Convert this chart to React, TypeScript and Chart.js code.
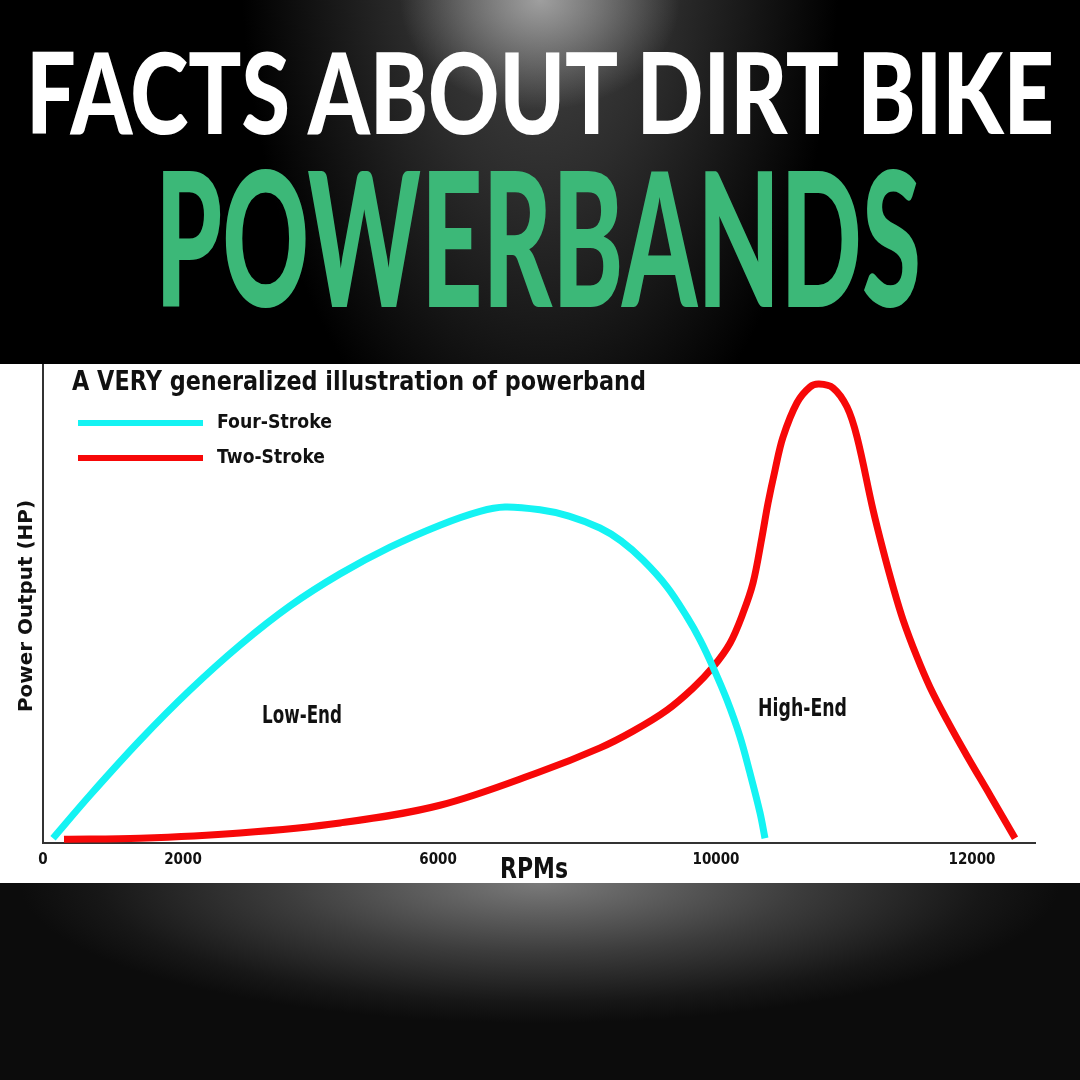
import React, { useEffect, useLayoutEffect, useRef } from 'react';
import { Chart, registerables } from 'chart.js';

Chart.register(...registerables);

// ---- data ----
const fourStrokeRpm = [143, 671, 1386, 2100, 2814, 3529, 4243, 4957, 5671, 6243, 6600, 7100, 7514, 7957, 8257, 8571, 8914, 9200, 9386, 9571, 9771, 9957, 10100, 10243, 10314];
const fourStrokeHp = [1.0, 10.0, 21.5, 32.0, 41.4, 49.6, 56.3, 61.9, 66.5, 69.4, 70.3, 69.7, 68.4, 65.9, 63.2, 59.2, 53.6, 47.3, 42.5, 36.8, 29.9, 22.2, 14.6, 6.3, 1.0];

const twoStrokeRpm = [300, 1386, 2814, 4243, 5671, 7100, 7957, 8429, 8914, 9286, 9571, 9814, 10000, 10143, 10271, 10357, 10457, 10571, 10771, 10957, 11086, 11286, 11486, 11629, 11857, 12000, 12143, 12286, 12486, 12671, 12914, 13200, 13529, 13886];
const twoStrokeHp = [0.8, 1.0, 2.1, 4.2, 7.9, 14.9, 19.9, 23.4, 27.8, 32.4, 36.8, 41.8, 48.1, 54.4, 64.0, 71.1, 78.0, 84.9, 92.1, 95.4, 96.0, 95.2, 91.2, 84.9, 69.7, 61.3, 53.6, 46.7, 38.9, 32.6, 25.7, 18.2, 10.0, 1.0];

const seriesNames = ['Four-Stroke', 'Two-Stroke'];
const seriesColors = ['#14f3f3', '#f70808'];

const tickPositions = [0, 2000, 5643, 9614, 13271];
const tickLabels = ['0', '2000', '6000', '10000', '12000'];

const regionLabels = ['Low-End', 'High-End'];
const regionRpm = [3700, 10850];
const regionHp = [25.1, 26.6];
const regionWidths = [80, 89];

const chartTitle = 'A VERY generalized illustration of powerband';
const xTitle = 'RPMs';
const yTitle = 'Power Output (HP)';

const PANEL_TOP = 364;
const TEXT = '#111111';
const FONT = '"DejaVu Sans", sans-serif';

function drawFit(ctx: CanvasRenderingContext2D, text: string, x: number, y: number, w: number, size: number) {
  ctx.save();
  ctx.font = `bold ${size}px ${FONT}`;
  const m = ctx.measureText(text).width;
  ctx.translate(x, y);
  ctx.scale(w / m, 1);
  ctx.textAlign = 'left';
  ctx.textBaseline = 'alphabetic';
  ctx.fillStyle = TEXT;
  ctx.fillText(text, 0, 0);
  ctx.restore();
}

const textPlugin = {
  id: 'powerbandText',
  afterDraw(chart: any) {
    const ctx: CanvasRenderingContext2D = chart.ctx;
    const xs = chart.scales.x;
    const ys = chart.scales.y;
    const off = PANEL_TOP;
    drawFit(ctx, chartTitle, 72, 390 - off, 574, 27);
    const legendW = [115, 108];
    chart.data.datasets.forEach((ds: any, i: number) => {
      const cy = (423 + i * 35) - off;
      ctx.save();
      ctx.strokeStyle = ds.borderColor;
      ctx.lineWidth = 6;
      ctx.beginPath();
      ctx.moveTo(78, cy);
      ctx.lineTo(203, cy);
      ctx.stroke();
      ctx.restore();
      drawFit(ctx, ds.label, 217, cy + 5, legendW[i], 19);
    });
    regionLabels.forEach((t, i) => {
      const px = xs.getPixelForValue(regionRpm[i]);
      const py = ys.getPixelForValue(regionHp[i]);
      drawFit(ctx, t, px - regionWidths[i] / 2, py, regionWidths[i], 25);
    });
    const xc = (chart.chartArea.left + chart.chartArea.right) / 2;
    drawFit(ctx, xTitle, xc - 34 - 5, 878 - off, 68, 29);
    ctx.save();
    ctx.translate(32, 606 - off);
    ctx.rotate(-Math.PI / 2);
    drawFit(ctx, yTitle, -106, 0, 212, 20);
    ctx.restore();
  },
};

function FitText(props: { text: string; left: number; top: number; width: number; size: number; color: string; family: string; weight: number }) {
  const r = useRef<HTMLDivElement>(null);
  useLayoutEffect(() => {
    const el = r.current!;
    el.style.transform = 'none';
    const w = el.getBoundingClientRect().width;
    el.style.transform = `scaleX(${props.width / w})`;
  }, []);
  return (
    <div
      ref={r}
      style={{
        position: 'absolute',
        left: props.left,
        top: props.top,
        width: 'max-content',
        fontSize: props.size,
        lineHeight: 1,
        fontFamily: props.family,
        fontWeight: props.weight,
        color: props.color,
        whiteSpace: 'nowrap',
        transformOrigin: '0 0',
      }}
    >
      {props.text}
    </div>
  );
}

export default function App() {
  const ref = useRef<HTMLCanvasElement>(null);

  useEffect(() => {
    document.body.style.margin = '0';
    document.body.style.overflow = 'hidden';
    const tickFont = { family: '"DejaVu Sans Condensed", "DejaVu Sans", sans-serif', size: 15, weight: 'bold' as const };
    const chart = new Chart(ref.current!, {
      type: 'line',
      data: {
        datasets: [
          {
            label: seriesNames[0],
            data: fourStrokeRpm.map((x, i) => ({ x, y: fourStrokeHp[i] })),
            borderColor: seriesColors[0],
            borderWidth: 7,
            pointRadius: 0,
            tension: 0.35,
            fill: false,
          },
          {
            label: seriesNames[1],
            data: twoStrokeRpm.map((x, i) => ({ x, y: twoStrokeHp[i] })),
            borderColor: seriesColors[1],
            borderWidth: 7,
            pointRadius: 0,
            tension: 0.35,
            fill: false,
          },
        ],
      },
      options: {
        animation: false,
        responsive: false,
        maintainAspectRatio: false,
        layout: { padding: { top: 1, right: 45, bottom: 0, left: 0 } },
        plugins: {
          legend: { display: false },
          tooltip: { enabled: false },
          title: { display: false },
        },
        scales: {
          x: {
            type: 'linear',
            min: 0,
            max: 14171,
            grid: { display: false, drawTicks: false },
            border: { display: true, color: '#333333', width: 2 },
            ticks: {
              autoSkip: false,
              maxRotation: 0,
              padding: 8,
              color: TEXT,
              font: tickFont,
              callback: (_v: any, i: number) => tickLabels[i],
            },
            afterBuildTicks: (s: any) => {
              s.ticks = tickPositions.map((v) => ({ value: v }));
            },
            afterFit: (s: any) => {
              s.height = 40;
            },
          },
          y: {
            type: 'linear',
            min: 0,
            max: 100,
            grid: { display: false, drawTicks: false },
            border: { display: true, color: '#333333', width: 2 },
            ticks: { display: false },
            afterFit: (s: any) => {
              s.width = 43;
            },
          },
        },
      },
      plugins: [textPlugin],
    } as any);
    return () => chart.destroy();
  }, []);

  return (
    <div style={{ position: 'absolute', left: 0, top: 0, width: 1080, height: 1080, overflow: 'hidden', background: '#000' }}>
      <div
        style={{
          position: 'absolute',
          left: 0,
          top: 0,
          width: 1080,
          height: PANEL_TOP,
          background:
            'radial-gradient(ellipse 140px 110px at 540px 0px, rgba(175,175,175,0.85) 0%, rgba(150,150,150,0) 100%), radial-gradient(ellipse 300px 560px at 540px -60px, #4a4a4a 0%, #2c2c2c 45%, #0c0c0c 85%, #000 100%)',
        }}
      />
      <div
        style={{
          position: 'absolute',
          left: 0,
          top: 883,
          width: 1080,
          height: 197,
          background:
            'radial-gradient(ellipse 520px 140px at 540px 0px, #7a7a7a 0%, #3c3c3c 50%, #171717 85%, #0c0c0c 100%)',
        }}
      />
      <FitText text="FACTS ABOUT DIRT BIKE" left={26} top={34} width={1028} size={113} color="#ffffff" family="Lato, 'Open Sans', sans-serif" weight={900} />
      <FitText text="POWERBANDS" left={155} top={141} width={766} size={187} color="#3cb878" family="Lato, 'Open Sans', sans-serif" weight={900} />
      <div style={{ position: 'absolute', left: 0, top: PANEL_TOP, width: 1080, height: 519, background: '#ffffff' }}>
        <canvas ref={ref} width={1080} height={519} style={{ display: 'block', width: 1080, height: 519 }} />
      </div>
    </div>
  );
}
